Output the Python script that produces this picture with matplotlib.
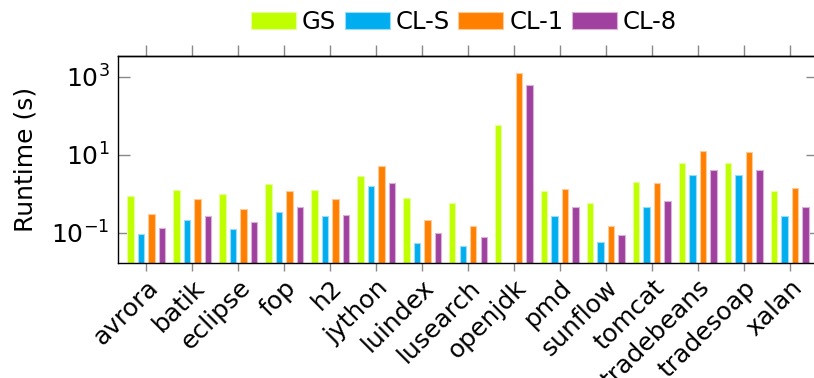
import numpy as np
import matplotlib
matplotlib.use("Agg")
import matplotlib.pyplot as plt
from matplotlib.patches import Patch
from matplotlib.ticker import FixedLocator, NullLocator

benchmarks = ["avrora", "batik", "eclipse", "fop", "h2", "jython", "luindex",
              "lusearch", "openjdk", "pmd", "sunflow", "tomcat", "tradebeans",
              "tradesoap", "xalan"]
gs   = [0.89, 1.24, 1.00, 1.80, 1.24, 2.9, 0.78, 0.60, 59, 1.19, 0.59, 2.03, 6.1, 6.1, 1.22]
cl_s = [0.093, 0.215, 0.13, 0.34, 0.27, 1.57, 0.056, 0.047, np.nan, 0.27, 0.059, 0.46, 3.0, 3.0, 0.27]
cl_1 = [0.30, 0.72, 0.42, 1.19, 0.72, 5.2, 0.21, 0.15, 1260, 1.37, 0.155, 1.88, 12.6, 11.9, 1.45]
cl_8 = [0.134, 0.27, 0.19, 0.46, 0.29, 1.95, 0.10, 0.08, 620, 0.46, 0.087, 0.65, 4.05, 4.1, 0.47]

series = [("GS", gs), ("CL-S", cl_s), ("CL-1", cl_1), ("CL-8", cl_8)]
colors = ["#BFFF00", "#00AEEF", "#FF8000", "#A0409F"]
edges = ["#E6FF99", "#99DDF8", "#FFCC99", "#D9B3D8"]

plt.rcParams['font.family'] = ['DejaVu Sans']
plt.rcParams['mathtext.fontset'] = 'dejavusans'
FS = 17.5

fig = plt.figure(figsize=(8.14, 3.78), dpi=100)
ax = fig.add_axes([118/814, 1-263/378, 700/814, (263-56)/378])

x = np.arange(len(benchmarks))
step = 0.2286
width = 0.14
for i, ((name, vals), c, e) in enumerate(zip(series, colors, edges)):
    ax.bar(x + (i - 1.5) * step, vals, width=width, color=c, edgecolor=e,
           linewidth=0.8, label=name, zorder=2)

ax.set_yscale('log')
ax.set_ylim(0.01706, 3381)
ax.set_xlim(-0.616, 14.616)
ax.yaxis.set_major_locator(FixedLocator([1e-1, 1e1, 1e3]))
ax.yaxis.set_minor_locator(NullLocator())
ax.set_yticklabels([r"$10^{-1}$", r"$10^{1}$", r"$10^{3}$"], fontsize=FS + 0.5)
ax.tick_params(axis='y', which='major', direction='in', left=True, right=True,
               length=8.5, width=1, color='#888888', pad=6)

ax.set_xticks(x)
ax.set_xticklabels(benchmarks, rotation=45, ha='right', va='top',
                   rotation_mode='anchor', fontsize=18)
ax.tick_params(axis='x', which='major', direction='out', top=False, bottom=True,
               length=5.5, width=1, color='#888888', pad=3.5)

top = ax.secondary_xaxis('top')
top.set_xticks(x)
top.set_xticklabels([])
top.tick_params(axis='x', direction='out', length=8, width=1, color='#888888')
top.spines['top'].set_linewidth(1.0)

for s in ax.spines.values():
    s.set_linewidth(1.0)
    s.set_color('black')

ax.set_ylabel("Runtime (s)", fontsize=FS + 0.5, labelpad=10)

handles = [Patch(facecolor=c, edgecolor=e, linewidth=0.8) for c, e in zip(colors, edges)]
fig.legend(handles, [s[0] for s in series], loc='center', ncol=4,
           bbox_to_anchor=(464/814, 1-22/378), frameon=False, fontsize=FS,
           handlelength=1.85, handleheight=0.66, handletextpad=0.25,
           columnspacing=0.35, borderpad=0.1)

fig.savefig("out.png", dpi=100)
